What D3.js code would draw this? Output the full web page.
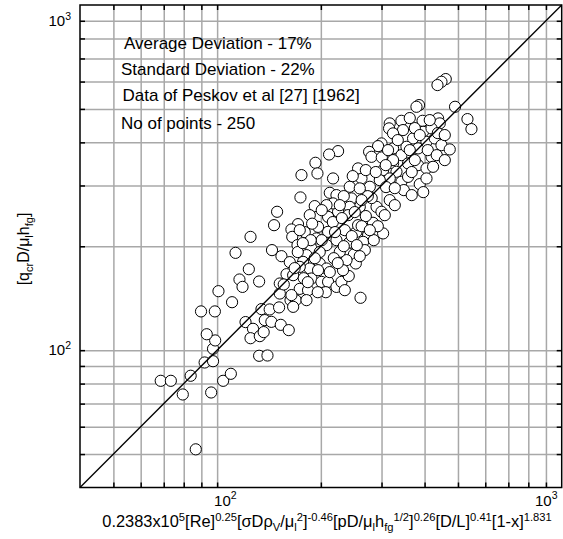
<!DOCTYPE html>
<html>
<head>
<meta charset="utf-8">
<script src="https://cdn.jsdelivr.net/npm/d3@7"></script>
<style>
  body { margin: 0; background: #fff; }
  svg { display: block; }
  text { font-family: "Liberation Sans", Arial, Helvetica, sans-serif; fill: #000; }
</style>
</head>
<body>
<svg id="chart" width="563" height="539"></svg>
<script>
// Critical heat flux: correlation value (x) against measured value (y), Peskov et al data
const predicted = [
  68.6, 73.4, 79.5, 83.8, 86.7, 96.1, 104.1, 109.6, 92.0, 97.3,
  97.3, 98.7, 93.3, 89.8, 98.5, 110.5, 100.9, 132.4, 140.0, 120.9,
  127.1, 125.0, 133.0, 136.5, 137.5, 143.7, 134.5, 142.1, 151.3, 153.0,
  161.4, 152.0, 163.3, 169.1, 116.1, 118.5, 132.4, 123.6, 159.0, 152.0,
  113.1, 125.0, 144.3, 153.7, 460.8, 447.8, 436.0, 385.5, 378.9, 490.3,
  532.7, 547.1, 316.9, 342.6, 315.5, 346.3, 324.0, 394.6, 396.0, 437.7,
  442.7, 419.0, 370.4, 299.9, 293.2, 276.1, 280.5, 300.5, 324.0, 342.6,
  354.4, 383.0, 405.1, 428.2, 447.8, 473.2, 419.0, 383.0, 405.1, 423.4,
  324.0, 303.2, 358.2, 331.5, 387.3, 342.6, 358.2, 405.1, 316.9, 296.5,
  277.4, 262.4, 256.5, 224.4, 211.3, 192.9, 195.5, 175.7, 217.0, 174.5,
  192.0, 149.3, 146.3, 171.7, 164.3, 165.2, 171.1, 212.3, 222.0, 242.6,
  259.4, 245.4, 259.4, 242.6, 290.2, 299.9, 306.6, 283.4, 303.2, 274.2,
  265.3, 268.3, 253.8, 256.5, 239.9, 224.4, 209.9, 217.0, 207.7, 227.0,
  209.9, 222.0, 241.5, 239.9, 249.4, 252.6, 237.4, 227.0, 207.7, 196.3,
  194.2, 187.8, 181.7, 177.6, 198.5, 207.7, 185.7, 173.7, 166.2, 187.8,
  200.8, 209.9, 222.0, 229.5, 241.0, 173.7, 183.6, 164.3, 181.7, 166.2,
  260.7, 309.2, 324.0, 437.0, 179.6, 201.2, 216.7, 234.7, 185.7, 198.5,
  218.1, 231.9, 192.1, 206.7, 178.4, 195.9, 223.9, 245.9, 233.1, 212.3,
  186.9, 171.4, 162.5, 156.1, 188.7, 230.2, 201.2, 177.3, 250.9, 270.1,
  280.9, 262.7, 284.8, 292.6, 316.9, 273.7, 254.3, 233.1, 247.5, 270.1,
  288.7, 308.6, 227.0, 334.4, 362.3, 374.7, 408.6, 433.9, 457.8, 367.1,
  348.2, 327.8, 414.1, 362.3, 374.7, 262.7, 327.8, 367.1, 396.4, 313.4,
  387.3, 457.8, 219.9, 196.3, 167.9, 183.3, 234.7, 259.4, 277.4, 173.7
];
const measured = [
  81.5, 81.5, 74.4, 84.3, 51.6, 75.4, 81.5, 85.4, 92.1, 92.9,
  100.9, 106.7, 111.2, 129.5, 129.5, 137.7, 148.2, 96.3, 96.5, 120.6,
  115.3, 108.3, 109.8, 112.8, 122.2, 120.8, 131.5, 131.2, 133.0, 118.4,
  114.3, 145.9, 139.6, 139.6, 160.2, 152.5, 158.1, 171.6, 166.0, 156.0,
  191.4, 212.9, 194.9, 187.2, 610.1, 599.2, 586.2, 512.8, 507.1, 507.1,
  467.1, 437.0, 453.9, 461.8, 439.1, 434.1, 424.6, 461.8, 429.2, 469.3,
  453.9, 439.1, 410.6, 397.1, 390.1, 375.5, 363.2, 361.7, 384.2, 367.3,
  388.3, 384.2, 401.4, 410.6, 392.6, 381.6, 363.2, 343.6, 336.2, 339.8,
  347.6, 332.4, 347.6, 328.7, 302.7, 307.4, 317.7, 314.4, 314.4, 310.9,
  297.4, 314.4, 336.2, 377.3, 368.9, 349.0, 325.1, 321.5, 314.4, 277.0,
  261.4, 251.7, 230.2, 231.8, 223.7, 212.9, 201.5, 285.7, 281.3, 297.4,
  294.2, 275.2, 260.1, 260.1, 260.1, 251.7, 246.1, 233.9, 217.9, 215.3,
  206.0, 194.9, 220.2, 230.2, 246.1, 251.7, 243.3, 266.2, 263.1, 227.6,
  220.2, 208.3, 204.7, 190.7, 189.4, 178.3, 182.3, 192.7, 201.5, 227.6,
  210.7, 197.1, 188.5, 180.2, 178.3, 172.4, 172.4, 174.3, 164.9, 161.3,
  157.7, 157.7, 152.5, 157.7, 164.0, 150.5, 149.2, 144.4, 139.6, 133.5,
  141.8, 296.8, 355.3, 425.5, 219.8, 208.3, 235.0, 222.7, 246.1, 192.4,
  184.7, 170.5, 184.7, 147.2, 161.6, 147.2, 178.7, 214.0, 200.1, 168.3,
  208.3, 192.4, 179.9, 155.0, 232.5, 241.3, 254.5, 204.2, 251.2, 244.6,
  275.8, 228.6, 208.3, 228.6, 272.1, 279.4, 201.5, 279.4, 319.3, 332.4,
  328.1, 343.6, 263.1, 406.0, 379.8, 439.9, 379.8, 367.3, 419.9, 328.1,
  290.9, 294.7, 464.0, 470.3, 355.3, 272.1, 263.1, 281.3, 287.0, 379.8,
  419.9, 355.3, 219.8, 170.5, 172.8, 157.4, 149.2, 187.2, 222.7, 222.7
];

// axis extent, grid lines and labelled decades (both axes share them)
const axisDomain = [40, 1000];
const gridValues = [50, 60, 70, 80, 90, 100, 200, 300, 400, 500, 600, 700, 800, 900];
const decadeLabels = [{ base: "10", exp: "2", value: 100 }, { base: "10", exp: "3", value: 1000 }];
const parityLine = [40, 1000];

const notes = [
  "Average Deviation - 17%",
  "Standard Deviation - 22%",
  "Data of Peskov et al [27] [1962]",
  "No of points - 250"
];

const xTitle = [
  ["0.2383x10", 0], ["5", 1], ["[Re]", 0], ["0.25", 1], ["[\u03c3D\u03c1", 0], ["V", -1],
  ["/\u03bc", 0], ["l", -1], ["2", 1], ["]", 0], ["-0.46", 1], ["[pD/\u03bc", 0], ["l", -1],
  ["h", 0], ["fg", -1], ["1/2", 1], ["]", 0], ["0.26", 1], ["[D/L]", 0], ["0.41", 1],
  ["[1-x]", 0], ["1.831", 1]
];
const yTitle = [["[q", 0], ["cr", -1], ["D/\u03bc", 0], ["l", -1], ["h", 0], ["fg", -1], ["]", 0]];

// ---- layout ----
const svg = d3.select("#chart");
const L = 80, R = 561.7, T = 5, B = 487.5;
const x = d3.scaleLog().domain(axisDomain).range([L, R]);
const y = d3.scaleLog().domain(axisDomain).range([B, T]);

// write text with sub/superscript runs using tspans
function richText(textSel, parts, size, small, supShift, subShift) {
  let offset = 0;
  parts.forEach(([t, mode]) => {
    const target = mode === 1 ? supShift : mode === -1 ? subShift : 0;
    textSel.append("tspan")
      .attr("dy", target - offset)
      .attr("font-size", mode === 0 ? size : small)
      .text(t);
    offset = target;
  });
}

// grid
const grid = svg.append("g");
grid.append("g")
  .attr("transform", `translate(0,${B})`)
  .call(d3.axisBottom(x).tickValues(gridValues).tickSize(-(B - T)).tickFormat(""));
grid.append("g")
  .attr("transform", `translate(${L},0)`)
  .call(d3.axisLeft(y).tickValues(gridValues).tickSize(-(R - L)).tickFormat(""));
grid.selectAll(".domain").remove();
grid.selectAll(".tick line").attr("stroke", "#a8a8a8").attr("stroke-width", 1.5);

// data points
svg.append("g")
  .selectAll("circle")
  .data(predicted.map((p, i) => [p, measured[i]]))
  .join("circle")
  .attr("cx", d => x(d[0]))
  .attr("cy", d => y(d[1]))
  .attr("r", 5.6)
  .attr("fill", "#fff")
  .attr("stroke", "#000")
  .attr("stroke-width", 1);

// y = x line
svg.append("path")
  .datum(parityLine)
  .attr("d", d3.line().x(d => x(d)).y(d => y(d)))
  .attr("fill", "none")
  .attr("stroke", "#000")
  .attr("stroke-width", 1.3);

// frame ticks on all four sides, pointing inward
const tickLen = 5;
const ticks = svg.append("g");
ticks.append("g").attr("transform", `translate(0,${B})`)
  .call(d3.axisBottom(x).tickValues(gridValues).tickSize(-tickLen).tickFormat(""));
ticks.append("g").attr("transform", `translate(0,${T})`)
  .call(d3.axisTop(x).tickValues(gridValues).tickSize(-tickLen).tickFormat(""));
ticks.append("g").attr("transform", `translate(${L},0)`)
  .call(d3.axisLeft(y).tickValues(gridValues).tickSize(-tickLen).tickFormat(""));
ticks.append("g").attr("transform", `translate(${R},0)`)
  .call(d3.axisRight(y).tickValues(gridValues).tickSize(-tickLen).tickFormat(""));
ticks.selectAll(".domain").remove();
ticks.selectAll(".tick line").attr("stroke", "#000").attr("stroke-width", 1.5);

svg.append("rect")
  .attr("x", L).attr("y", T).attr("width", R - L).attr("height", B - T)
  .attr("fill", "none").attr("stroke", "#000").attr("stroke-width", 1.5);

// decade labels, x axis
decadeLabels.forEach(d => {
  const t = svg.append("text").attr("y", 505.5).attr("font-size", 15);
  richText(t, [[d.base, 0], [d.exp, 1]], 15, 10.5, -6.5, 0);
  const w = t.node().getComputedTextLength();
  const start = Math.min(x(d.value) - 3, 557.5 - w);
  t.attr("x", start);
});
// decade labels, y axis
decadeLabels.forEach(d => {
  const t = svg.append("text").attr("x", 71).attr("text-anchor", "end").attr("font-size", 15);
  richText(t, [[d.base, 0], [d.exp, 1]], 15, 10.5, -6.5, 0);
  t.attr("y", Math.max(y(d.value) + 5, 26));
});

// axis titles
const xt = svg.append("text").attr("x", 327).attr("y", 527).attr("text-anchor", "middle").attr("font-size", 16.4);
richText(xt, xTitle, 16.4, 11.2, -6, 4);

const yt = svg.append("text").attr("text-anchor", "middle").attr("font-size", 16)
  .attr("transform", "translate(29,249) rotate(-90)");
richText(yt, yTitle, 16, 11, -6, 4);

// statistics notes
const noteX = [124, 121, 122.5, 121];
const noteY = [48.5, 75, 100.5, 129];
svg.append("g").selectAll("text")
  .data(notes)
  .join("text")
  .attr("x", (d, i) => noteX[i])
  .attr("y", (d, i) => noteY[i])
  .attr("font-size", 17)
  .text(d => d);
</script>
</body>
</html>
